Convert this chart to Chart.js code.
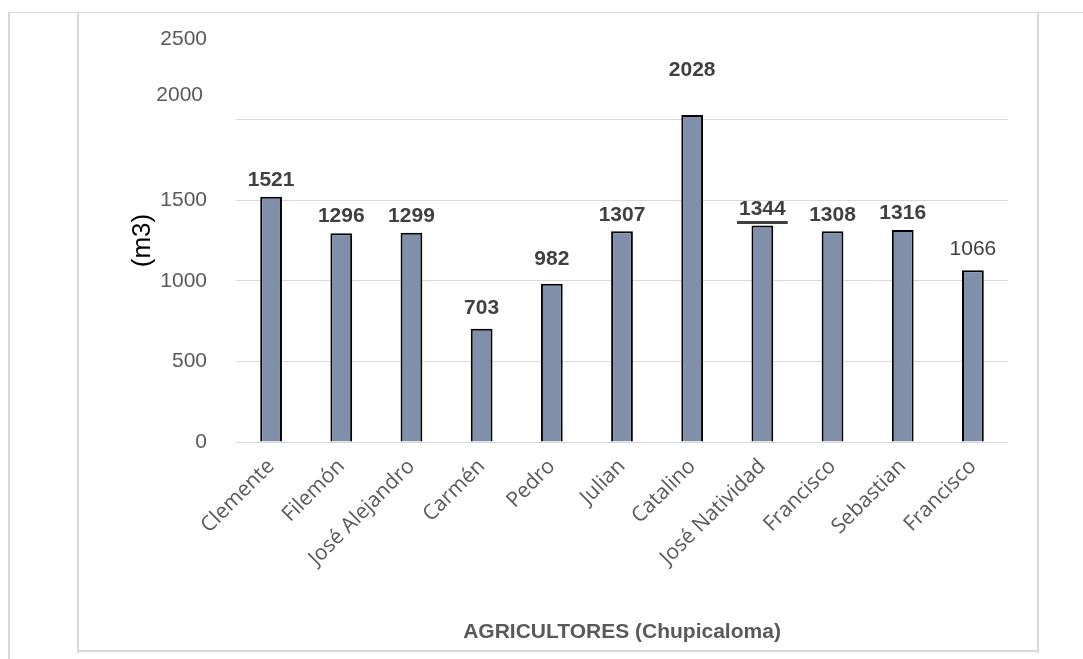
<!DOCTYPE html>
<html>
<head>
<meta charset="utf-8">
<script src="https://cdn.jsdelivr.net/npm/chart.js@4.4.1/dist/chart.umd.min.js"></script>
<style>
  html, body { margin: 0; padding: 0; background: #ffffff; }
  body { width: 1083px; height: 659px; position: relative; overflow: hidden; }
  .ln { position: absolute; background: #d9d9d9; }
  #wrap { position: absolute; left: 77px; top: 12px; width: 961px; height: 639px; }
</style>
</head>
<body>
<div class="ln" style="left:8px;top:12px;width:1075px;height:1px;"></div>
<div class="ln" style="left:8px;top:12px;width:2px;height:647px;"></div>
<div class="ln" style="left:77px;top:12px;width:2px;height:641px;"></div>
<div class="ln" style="left:1037px;top:12px;width:2px;height:641px;"></div>
<div class="ln" style="left:77px;top:650px;width:962px;height:2px;"></div>
<div id="wrap"><canvas id="c"></canvas></div>
<script>
const categories = ['Clemente', 'Filemón', 'José Alejandro', 'Carmén', 'Pedro', 'Julian', 'Catalino', 'José Natividad', 'Francisco', 'Sebastian', 'Francisco'];
const volumes = [1521, 1296, 1299, 703, 982, 1307, 2028, 1344, 1308, 1316, 1066];
const yTickValues = [0, 500, 1000, 1500, 2000, 2500];
const yAxisTitle = '(m3)';
const xAxisTitle = 'AGRICULTORES (Chupicaloma)';

const labelStyle = {
  lift: { 3: 4, 4: 8, 6: 28, 10: 5 },
  normalWeight: [10],
  underline: [7]
};

const valueLabels = {
  id: 'valueLabels',
  afterDatasetsDraw(chart) {
    const ctx = chart.ctx;
    const meta = chart.getDatasetMeta(0);
    ctx.save();
    ctx.fillStyle = '#404040';
    ctx.strokeStyle = '#404040';
    ctx.textAlign = 'center';
    ctx.textBaseline = 'bottom';
    meta.data.forEach((bar, i) => {
      const v = chart.data.datasets[0].data[i];
      const bold = !labelStyle.normalWeight.includes(i);
      ctx.font = (bold ? 'bold ' : '') + '21px "Liberation Sans", Arial, sans-serif';
      const y = bar.y - 6 - (labelStyle.lift[i] || 0);
      const txt = String(v);
      ctx.fillText(txt, bar.x, y);
      if (labelStyle.underline.includes(i)) {
        const w = ctx.measureText(txt).width;
        ctx.lineWidth = 3;
        ctx.beginPath();
        ctx.moveTo(bar.x - w / 2 - 2, y + 3);
        ctx.lineTo(bar.x + w / 2 + 2, y + 3);
        ctx.stroke();
      }
    });
    // the 2000 tick label sits higher than its grid line in the reference
    const ys = chart.scales.y;
    ctx.font = '21px "Liberation Sans", Arial, sans-serif';
    ctx.fillStyle = '#595959';
    ctx.textAlign = 'right';
    ctx.textBaseline = 'middle';
    ctx.fillText('2000', ys.right - 33, ys.getPixelForValue(2150));
    ctx.restore();
  }
};

new Chart(document.getElementById('c'), {
  type: 'bar',
  data: {
    labels: categories,
    datasets: [{
      data: volumes,
      backgroundColor: '#8090aa',
      borderColor: '#000000',
      borderWidth: 2,
      borderSkipped: 'start',
      barPercentage: 0.31,
      categoryPercentage: 1.0
    }]
  },
  options: {
    responsive: true,
    maintainAspectRatio: false,
    animation: false,
    layout: { padding: { left: 50, right: 30, top: 27, bottom: 6 } },
    plugins: {
      legend: { display: false },
      tooltip: { enabled: false }
    },
    scales: {
      x: {
        grid: { display: false },
        border: { display: false },
        ticks: {
          color: '#595959',
          font: { family: '"Open Sans", sans-serif', size: 21 },
          minRotation: 45,
          maxRotation: 45,
          padding: 4,
          autoSkip: false
        },
        title: {
          display: true,
          text: xAxisTitle,
          color: '#595959',
          font: { family: '"Liberation Sans", Arial, sans-serif', size: 21, weight: 'bold' },
          padding: { top: 45, bottom: 0 }
        }
      },
      y: {
        min: 0,
        max: 2500,
        afterBuildTicks(scale) { scale.ticks = yTickValues.map(v => ({ value: v })); },
        afterFit(scale) { scale.width = 109; scale.paddingTop = 12; scale.paddingBottom = 12; },
        grid: {
          drawTicks: false,
          color: c => (c.tick && c.tick.value === 2500 ? 'rgba(0,0,0,0)' : '#d9d9d9'),
          lineWidth: 1
        },
        border: { display: false },
        ticks: {
          color: '#595959',
          font: { family: '"Liberation Sans", Arial, sans-serif', size: 21 },
          padding: 29,
          callback: v => (v === 2000 ? '' : String(v))
        },
        title: {
          display: true,
          text: yAxisTitle,
          color: '#000000',
          font: { family: '"Liberation Sans", Arial, sans-serif', size: 26 },
          padding: { top: 0, bottom: 0 }
        }
      }
    }
  },
  plugins: [valueLabels]
});
</script>
</body>
</html>
